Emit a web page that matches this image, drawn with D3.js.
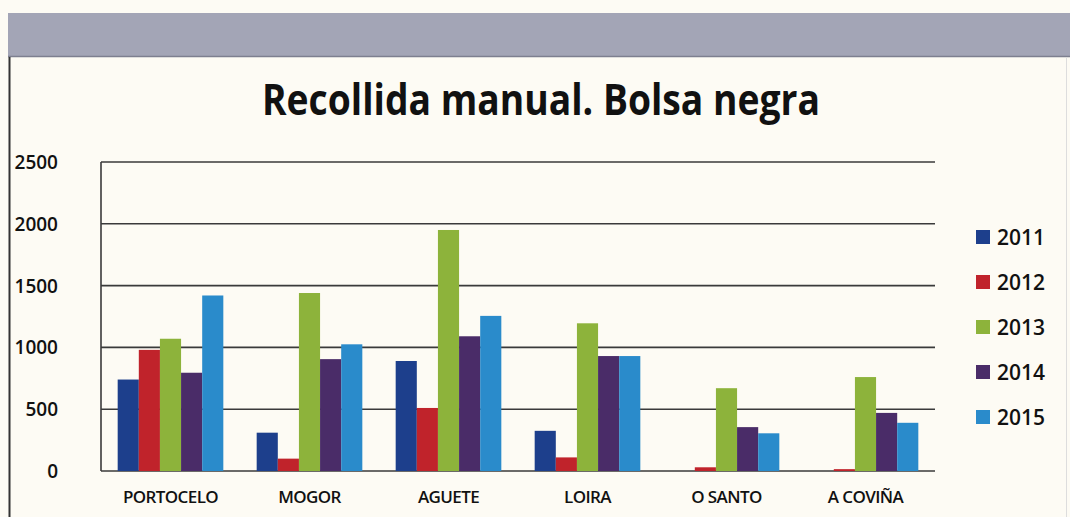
<!DOCTYPE html>
<html><head><meta charset="utf-8">
<script src="https://cdn.jsdelivr.net/npm/d3@7"></script>
<style>
html,body{margin:0;padding:0;background:#fdfbf4;}
svg{display:block;}
</style></head>
<body>
<svg id="c" width="1070" height="517"></svg>
<script>
const categories = ["PORTOCELO","MOGOR","AGUETE","LOIRA","O SANTO","A COVIÑA"];
const years = ["2011","2012","2013","2014","2015"];
const v2011 = [740, 310, 890, 325, 0, 0];
const v2012 = [980, 100, 510, 110, 30, 15];
const v2013 = [1070, 1440, 1950, 1195, 670, 760];
const v2014 = [795, 905, 1090, 930, 355, 470];
const v2015 = [1420, 1025, 1255, 930, 305, 390];
const yTicks = [0, 500, 1000, 1500, 2000, 2500];
const colors = ["#1d3f8c", "#c0232b", "#8db33b", "#4a2c68", "#2a8bcb"];
const series = [v2011, v2012, v2013, v2014, v2015];

(function(){
const svg = d3.select("#c");
// header band
svg.append("rect").attr("x",8).attr("y",13).attr("width",1062).attr("height",44).attr("fill","#a3a5b6");
svg.append("line").attr("x1",8).attr("x2",1070).attr("y1",56.5).attr("y2",56.5).attr("stroke","#7d7f8f").attr("stroke-width",1.5);
svg.append("line").attr("x1",9.5).attr("x2",9.5).attr("y1",57).attr("y2",517).attr("stroke","#333").attr("stroke-width",2);
svg.append("line").attr("x1",1066.5).attr("x2",1066.5).attr("y1",57).attr("y2",517).attr("stroke","#ddd").attr("stroke-width",1);

svg.append("text").attr("x",541).attr("y",115).attr("text-anchor","middle")
  .attr("font-family","Open Sans, sans-serif").attr("font-weight","bold").attr("font-size",43)
  .attr("fill","#111").attr("textLength",558).attr("lengthAdjust","spacingAndGlyphs")
  .text("Recollida manual. Bolsa negra");

const pL = 101, pR = 935, pT = 162, pB = 471;
const x = d3.scaleBand().domain(categories).range([pL, pR]).paddingInner(0.24).paddingOuter(0.12);
const xs = d3.scaleBand().domain(years).range([0, x.bandwidth()]);
const y = d3.scaleLinear().domain([0, 2500]).range([pB, pT]);

// gridlines
svg.append("g").selectAll("line").data(yTicks).join("line")
  .attr("x1", pL).attr("x2", pR)
  .attr("y1", d => y(d)).attr("y2", d => y(d))
  .attr("stroke", "#3a3a3a").attr("stroke-width", 1.6);
// y axis line
svg.append("line").attr("x1",pL).attr("x2",pL).attr("y1",pT).attr("y2",pB).attr("stroke","#3a3a3a").attr("stroke-width",1.6);

// y tick labels
svg.append("g").selectAll("text").data(yTicks).join("text")
  .attr("x", 58).attr("y", d => y(d) + 7).attr("text-anchor","end")
  .attr("font-family","Open Sans, sans-serif").attr("font-weight",600).attr("font-size",19).attr("fill","#111")
  .text(d => d);

// bars
const g = svg.append("g");
series.forEach((s, i) => {
  g.append("g").selectAll("rect").data(s).join("rect")
    .attr("x", (d, j) => x(categories[j]) + xs(years[i]))
    .attr("width", xs.bandwidth())
    .attr("y", d => y(d))
    .attr("height", d => y(0) - y(d))
    .attr("fill", colors[i]);
});

// category labels
svg.append("g").selectAll("text").data(categories).join("text")
  .attr("x", d => x(d) + x.bandwidth()/2).attr("y", 503).attr("text-anchor","middle")
  .attr("font-family","Open Sans, sans-serif").attr("font-weight",600).attr("font-size",17)
  .attr("letter-spacing","-0.6").attr("fill","#111")
  .text(d => d);

// legend
const lg = svg.append("g");
years.forEach((yr, i) => {
  const ly = 237 + i * 45;
  lg.append("rect").attr("x",976).attr("y",ly-7).attr("width",14).attr("height",14).attr("fill",colors[i]);
  lg.append("text").attr("x",997).attr("y",ly+8).attr("font-family","Open Sans, sans-serif")
    .attr("font-weight",600).attr("font-size",21).attr("fill","#111").text(yr);
});
})();
</script>
</body></html>
